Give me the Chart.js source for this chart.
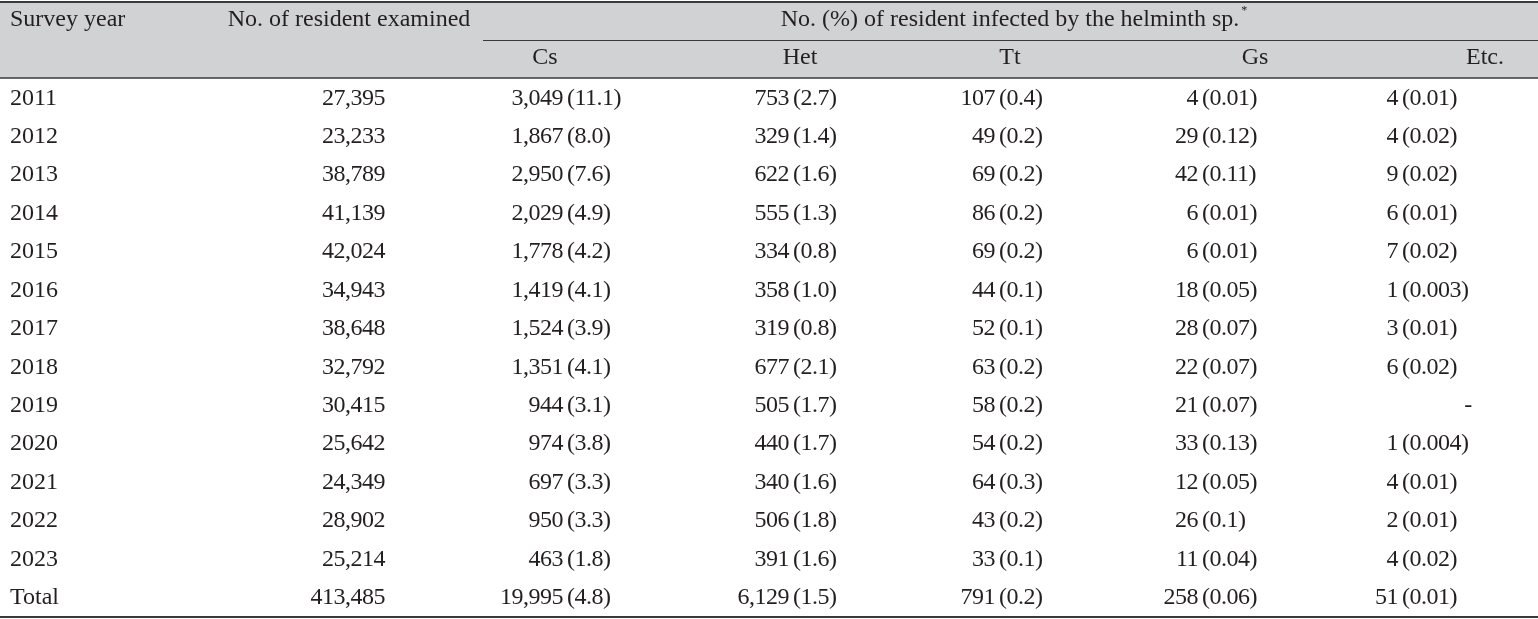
<!DOCTYPE html>
<html>
<head>
<meta charset="utf-8">
<script src="https://cdn.jsdelivr.net/npm/chart.js@4.4.0/dist/chart.umd.min.js"></script>
<style>
  html, body { margin: 0; padding: 0; background: #fff; }
  #wrap { width: 1538px; height: 619px; position: relative; }
</style>
</head>
<body>
<div id="wrap"><canvas id="tbl"></canvas></div>
<script>
// righe della tabella (anni + totale)
const years = ['2011', '2012', '2013', '2014', '2015', '2016', '2017', '2018', '2019', '2020', '2021', '2022', '2023', 'Total'];
const examined = [27395, 23233, 38789, 41139, 42024, 34943, 38648, 32792, 30415, 25642, 24349, 28902, 25214, 413485];

// specie: numero e (%)
const csNo = [3049, 1867, 2950, 2029, 1778, 1419, 1524, 1351, 944, 974, 697, 950, 463, 19995];
const csPct = ['11.1', '8.0', '7.6', '4.9', '4.2', '4.1', '3.9', '4.1', '3.1', '3.8', '3.3', '3.3', '1.8', '4.8'];
const hetNo = [753, 329, 622, 555, 334, 358, 319, 677, 505, 440, 340, 506, 391, 6129];
const hetPct = ['2.7', '1.4', '1.6', '1.3', '0.8', '1.0', '0.8', '2.1', '1.7', '1.7', '1.6', '1.8', '1.6', '1.5'];
const ttNo = [107, 49, 69, 86, 69, 44, 52, 63, 58, 54, 64, 43, 33, 791];
const ttPct = ['0.4', '0.2', '0.2', '0.2', '0.2', '0.1', '0.1', '0.2', '0.2', '0.2', '0.3', '0.2', '0.1', '0.2'];
const gsNo = [4, 29, 42, 6, 6, 18, 28, 22, 21, 33, 12, 26, 11, 258];
const gsPct = ['0.01', '0.12', '0.11', '0.01', '0.01', '0.05', '0.07', '0.07', '0.07', '0.13', '0.05', '0.1', '0.04', '0.06'];
const etcNo = [4, 4, 9, 6, 7, 1, 3, 6, null, 1, 4, 2, 4, 51];
const etcPct = ['0.01', '0.02', '0.02', '0.01', '0.02', '0.003', '0.01', '0.02', null, '0.004', '0.01', '0.01', '0.02', '0.01'];

const speciesLabels = ['Cs', 'Het', 'Tt', 'Gs', 'Etc.'];
const headYear = 'Survey year';
const headExamined = 'No. of resident examined';
const headGroup = 'No. (%) of resident infected by the helminth sp.';

// layout (posizioni colonne sull'asse x, in px della tela)
const COLS = [
    { key: 'year', x: 10 },
    { key: 'exam', x: 385 },
    { key: 'cs', x: 567, head: 545 },
    { key: 'het', x: 793, head: 800 },
    { key: 'tt', x: 999, head: 1010 },
    { key: 'gs', x: 1202, head: 1255 },
    { key: 'etc', x: 1402, head: 1485 }
];
const FONT = '24px "Liberation Serif", "Times New Roman", serif';
const INK = '#231f20';
const HEAD_BG = '#d1d2d4';

const fmt = n => n.toLocaleString('en-US');

const cellText = [
    years.map(y => ({ label: y })),
    examined.map(v => ({ right: fmt(v) })),
    csNo.map((v, i) => ({ no: fmt(v), pct: csPct[i] })),
    hetNo.map((v, i) => ({ no: fmt(v), pct: hetPct[i] })),
    ttNo.map((v, i) => ({ no: fmt(v), pct: ttPct[i] })),
    gsNo.map((v, i) => ({ no: fmt(v), pct: gsPct[i] })),
    etcNo.map((v, i) => (v === null ? { dash: true } : { no: fmt(v), pct: etcPct[i] }))
];

// un dataset invisibile per colonna: i punti danno la posizione delle celle
const datasets = COLS.map(c => ({
    label: c.key,
    data: years.map(y => ({ x: c.x, y: y })),
    pointRadius: 0,
    showLine: false
}));

const tablePlugin = {
    id: 'tablePlugin',
    beforeDraw(chart) {
        const { ctx, chartArea, width } = chart;
        const xs = chart.scales.x;
        ctx.save();
        // fondo grigio intestazione
        ctx.fillStyle = HEAD_BG;
        ctx.fillRect(0, 3, width, chartArea.top - 4);
        ctx.strokeStyle = '#3a3a3a';
        // linea superiore
        ctx.lineWidth = 2.2;
        ctx.beginPath(); ctx.moveTo(0, 2); ctx.lineTo(width, 2); ctx.stroke();
        // linea sotto il gruppo
        ctx.lineWidth = 1.2;
        ctx.beginPath(); ctx.moveTo(xs.getPixelForValue(483), 40.5); ctx.lineTo(width, 40.5); ctx.stroke();
        // linea sotto l'intestazione
        ctx.lineWidth = 1.6;
        ctx.beginPath(); ctx.moveTo(0, chartArea.top - 1); ctx.lineTo(width, chartArea.top - 1); ctx.stroke();
        // linea di chiusura
        ctx.lineWidth = 2;
        ctx.beginPath(); ctx.moveTo(0, chartArea.bottom); ctx.lineTo(width, chartArea.bottom); ctx.stroke();

        // testi intestazione
        ctx.fillStyle = INK;
        ctx.font = FONT;
        ctx.textBaseline = 'middle';
        ctx.textAlign = 'left';
        ctx.fillText(headYear, xs.getPixelForValue(10), 20);
        ctx.textAlign = 'center';
        ctx.fillText(headExamined, xs.getPixelForValue(349), 20);
        const gx = xs.getPixelForValue(1010);
        ctx.fillText(headGroup, gx, 20);
        const gw = ctx.measureText(headGroup).width;
        ctx.font = '12px "Liberation Serif", serif';
        ctx.textAlign = 'left';
        ctx.fillText('*', gx + gw / 2 + 2, 11);
        ctx.font = FONT;
        ctx.textAlign = 'center';
        COLS.slice(2).forEach((c, i) => {
            ctx.fillText(speciesLabels[i], xs.getPixelForValue(c.head), 58);
        });
        ctx.restore();
    },
    afterDatasetsDraw(chart) {
        const { ctx } = chart;
        ctx.save();
        ctx.fillStyle = INK;
        ctx.font = FONT;
        ctx.textBaseline = 'middle';
        chart.data.datasets.forEach((ds, di) => {
            const meta = chart.getDatasetMeta(di);
            // cifre un po' strette come nell'originale
            ctx.letterSpacing = di === 0 ? '0px' : '-0.5px';
            meta.data.forEach((pt, i) => {
                const cell = cellText[di][i];
                if (cell.label !== undefined) {
                    ctx.textAlign = 'left';
                    ctx.fillText(cell.label, pt.x, pt.y);
                } else if (cell.right !== undefined) {
                    ctx.textAlign = 'right';
                    ctx.fillText(cell.right, pt.x, pt.y);
                } else if (cell.dash) {
                    ctx.textAlign = 'center';
                    ctx.fillText('-', pt.x + 66, pt.y);
                } else {
                    ctx.textAlign = 'right';
                    ctx.fillText(cell.no, pt.x - 4, pt.y);
                    ctx.textAlign = 'left';
                    ctx.fillText('(' + cell.pct + ')', pt.x, pt.y);
                }
            });
        });
        ctx.restore();
    }
};

new Chart(document.getElementById('tbl'), {
    type: 'scatter',
    data: { datasets: datasets },
    options: {
        responsive: true,
        maintainAspectRatio: false,
        animation: false,
        layout: { padding: { top: 79, bottom: 2, left: 0, right: 0 } },
        plugins: { legend: { display: false }, tooltip: { enabled: false } },
        scales: {
            x: { type: 'linear', min: 0, max: 1538, display: false },
            y: { type: 'category', labels: years, offset: true, display: false }
        }
    },
    plugins: [tablePlugin]
});
</script>
</body>
</html>
